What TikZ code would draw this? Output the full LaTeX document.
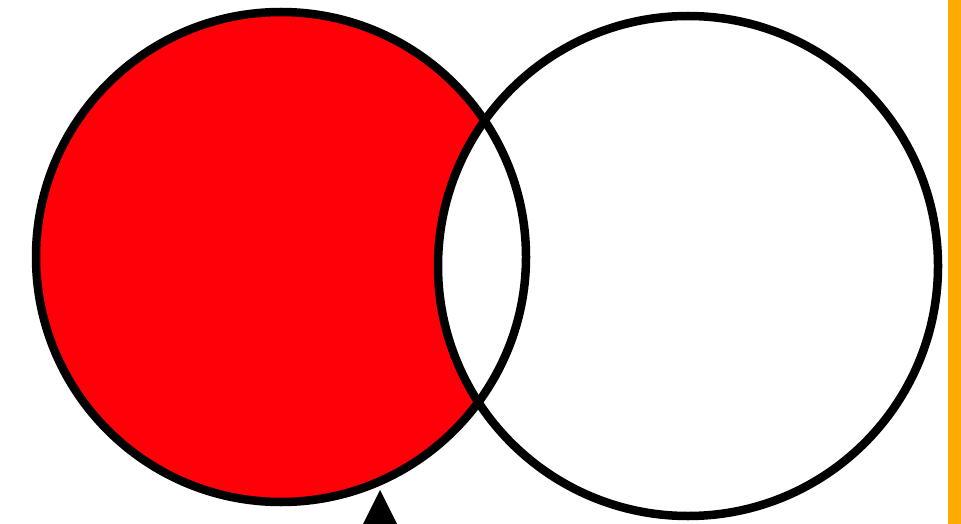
\documentclass[tikz,border=0pt]{standalone}
\definecolor{vennred}{HTML}{FF0008}
\definecolor{barorange}{HTML}{FFAA00}
\tikzset{
  outline/.style={draw=black, line width=8.5pt},
  pointer/.style={fill=black},
}
\begin{document}
\begin{tikzpicture}[x=1pt,y=-1pt]
  \useasboundingbox (0,0) rectangle (961,524);
  \fill[white] (0,0) rectangle (961,524);
  \coordinate (A) at (281,257);
  \coordinate (B) at (688,266);
  % lune: A minus B
  \fill[vennred] (A) circle[radius=245pt];
  \fill[white] (B) circle[radius=250pt];
  \draw[outline] (A) circle[radius=245pt];
  \draw[outline] (B) circle[radius=250pt];
  % orange bar
  \fill[barorange] (948,0) rectangle (961,524);
  % arrowhead
  \coordinate (tip) at (380,490);
  \fill[pointer] (tip) -- (362,526) -- (398,526) -- cycle;
\end{tikzpicture}
\end{document}
